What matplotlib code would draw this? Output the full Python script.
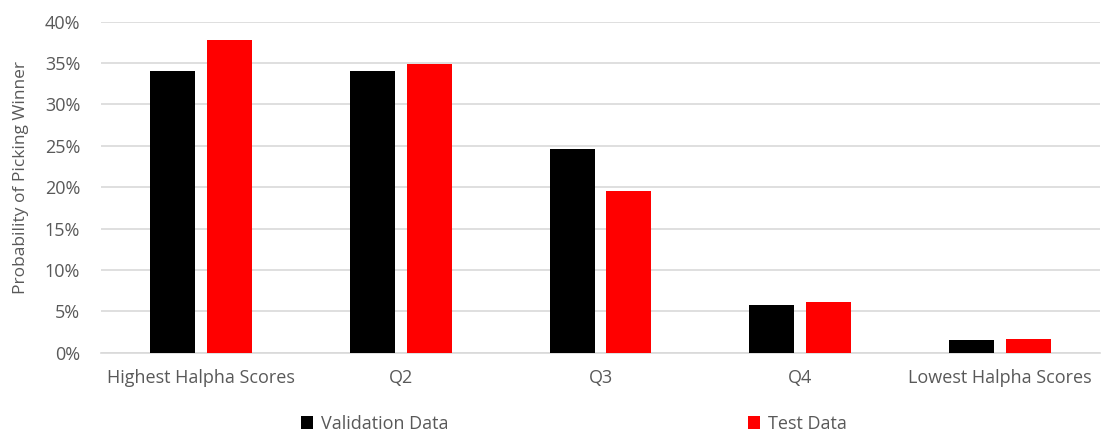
import matplotlib
matplotlib.use("Agg")
import matplotlib.pyplot as plt
import numpy as np
from matplotlib.ticker import PercentFormatter

categories = ["Highest Halpha Scores", "Q2", "Q3", "Q4", "Lowest Halpha Scores"]
validation = [34.0, 34.0, 24.6, 5.8, 1.5]
test = [37.8, 34.9, 19.5, 6.1, 1.6]

plt.rcParams["font.family"] = ["Open Sans", "DejaVu Sans"]
grey = "#595959"

fig = plt.figure(figsize=(11.03, 4.37), dpi=100)
ax = fig.add_axes([101 / 1103, 1 - 352.7 / 437, 999 / 1103, 331 / 437])

x = np.arange(len(categories))
w = 0.225
ax.bar(x - 0.1425, validation, w, color="black", label="Validation Data", zorder=3)
ax.bar(x + 0.1425, test, w, color="#ff0000", label="Test Data", zorder=3)

ax.set_xlim(-0.5, len(categories) - 0.5)
ax.set_ylim(0, 40)
ax.set_yticks(np.arange(0, 41, 5))
ax.yaxis.set_major_formatter(PercentFormatter(decimals=0))
ax.set_xticks(x)
ax.set_xticklabels(categories)
ax.tick_params(axis="both", length=0, labelsize=13, colors=grey)
ax.tick_params(axis="x", pad=12)
ax.tick_params(axis="y", pad=15)
ax.grid(axis="y", color="#d9d9d9", lw=1.2, zorder=0)
for s in ["top", "right", "left"]:
    ax.spines[s].set_visible(False)
ax.spines["bottom"].set_color("#d9d9d9")
ax.spines["bottom"].set_linewidth(1.2)

ax.set_ylabel("Probability of Picking Winner", fontsize=12.5, color=grey)
ax.yaxis.set_label_coords(-0.072, 0.53)

leg = fig.legend(loc="center", bbox_to_anchor=(0.52, 1 - 424 / 437), ncol=2,
                 frameon=False, fontsize=13, handlelength=0.7, handleheight=0.7,
                 handletextpad=0.4, columnspacing=16.6)
for t in leg.get_texts():
    t.set_color(grey)

fig.savefig("out.png", dpi=100)
